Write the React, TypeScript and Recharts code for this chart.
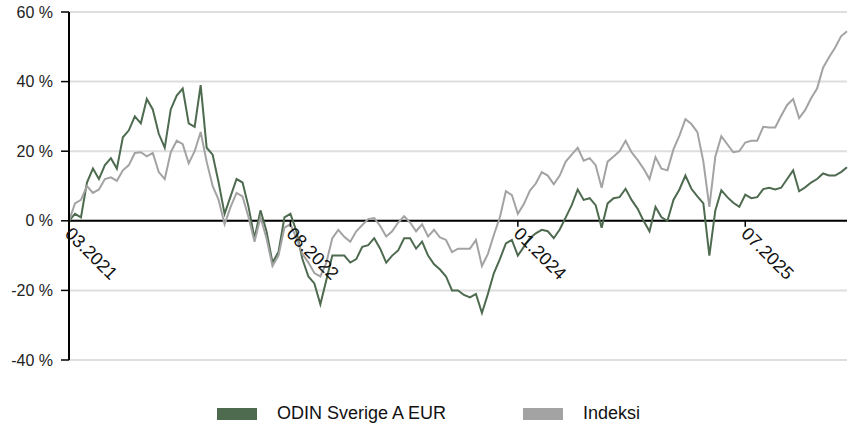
import { LineChart, Line, XAxis, YAxis, CartesianGrid, ReferenceLine, ReferenceDot } from 'recharts';

// two-week periods from 03.2021, values in % change since start
const fundValues = [
  0, 2, 1, 11, 15, 12, 16, 18, 15, 24,
  26, 30, 28, 35, 32, 25, 21, 32, 36, 38,
  28, 27, 39, 21, 19, 11, 2, 7, 12, 11,
  4, -5, 3, -3, -12, -9, 1, 2, -3, -11,
  -16, -18, -24, -17, -10, -10, -10, -12, -11, -7.5,
  -7, -5, -8, -12, -10, -8.5, -5, -5, -8, -6,
  -10, -12.5, -14, -16, -20, -20, -21.3, -22, -21, -26.5,
  -21, -15, -11, -6.5, -5.5, -10, -7.5, -5, -3.6, -2.6,
  -3, -5, -2.5, 1, 4.5, 9, 6, 6.5, 4.5, -2,
  5, 6.5, 6.8, 9.2, 6, 3.5, 0, -3, 4, 1,
  0, 6, 9, 13, 9.2, 7, 5, -10, 3, 8.8,
  6.8, 5.2, 4, 7.5, 6.5, 6.8, 9.1, 9.5, 9, 9.5,
  12, 14.5, 8.5, 9.6, 11, 12, 13.6, 13, 13, 14,
  15.4,
];

const indexValues = [
  0, 5, 6, 10, 8, 9, 12, 12.5, 11.5, 14.5,
  16, 19.5, 19.7, 18.5, 19.5, 14, 12, 19.7, 23, 22,
  16.5, 20, 25.5, 17, 10, 6, -1, 4, 8, 7,
  1, -6, 1, -5, -13, -10, -2, -1, -5, -9.5,
  -12, -15, -16, -12, -5, -2.6, -4.6, -6, -3, -1.2,
  0.5, 0.8, -1.5, -4.5, -3, -0.5, 1.3, -0.5, -3, -1,
  -4.5, -2.6, -4.8, -5.5, -9, -8, -8, -8, -5.5, -13,
  -9.5, -4, 1, 8.5, 7.4, 2, 4.8, 8.6, 10.7, 14,
  13, 10.5, 13, 17, 19, 21, 17.3, 18, 16, 9.5,
  17, 18.5, 20, 23, 19.7, 17.5, 15, 12, 18.3, 15,
  14.5, 20.5, 24.5, 29.2, 27.8, 25.5, 17, 4, 18.5, 24.3,
  22, 19.7, 20, 22.5, 23, 23, 27, 26.8, 26.8, 30.2,
  33.3, 35, 29.5, 31.8, 35.2, 38, 44, 47, 49.7, 53,
  54.5,
];

const tickPeriods = [0, 37, 75, 113];
const tickLabels = ['03.2021', '08.2022', '01.2024', '07.2025'];
const yTicks = [-40, -20, 0, 20, 40, 60];

const seriesNames = ['ODIN Sverige A EUR', 'Indeksi'];
const GREEN = '#4e6b50';
const GRAY = '#a3a3a3';

const data = fundValues.map((v, i) => ({ period: i, fund: v, index: indexValues[i] }));

const FONT = '"Liberation Sans", Arial, sans-serif';

function DateTick(props: any) {
  const { cx, cy, text } = props;
  const px = cx - 5;
  const py = cy + 14;
  return (
    <g>
      <line x1={cx} y1={cy} x2={cx} y2={cy + 6} stroke="#000" strokeWidth={1.5} />
      <text
        x={px}
        y={py}
        transform={`rotate(45 ${px} ${py})`}
        fontSize={18}
        fontFamily={FONT}
        fill="#111"
        textAnchor="start"
      >
        {text}
      </text>
    </g>
  );
}

export default function App() {
  return (
    <div style={{ position: 'absolute', left: 0, top: 0, width: 855, height: 430, background: '#fff', fontFamily: FONT }}>
      <LineChart width={855} height={380} data={data} margin={{ top: 12, right: 8, left: 0, bottom: 20 }}>
        <CartesianGrid stroke="#dedede" strokeWidth={2} vertical={false} />
        <XAxis type="number" dataKey="period" domain={[0, 130]} hide />
        <YAxis
          type="number"
          domain={[-40, 60]}
          ticks={yTicks}
          width={69}
          tickSize={8}
          tickMargin={8}
          axisLine={{ stroke: '#000', strokeWidth: 2 }}
          tickLine={{ stroke: '#000', strokeWidth: 1.5 }}
          tick={{ fill: '#222', fontSize: 16, fontFamily: FONT }}
          tickFormatter={(v) => `${v} %`}
        />
        <ReferenceLine y={0} stroke="#000" strokeWidth={2} />
        <Line type="linear" dataKey="fund" stroke={GREEN} strokeWidth={2} dot={false} isAnimationActive={false} />
        <Line type="linear" dataKey="index" stroke={GRAY} strokeWidth={2} dot={false} isAnimationActive={false} />
        {tickPeriods.map((p, i) => (
          <ReferenceDot
            key={p}
            x={p}
            y={0}
            r={0}
            ifOverflow="visible"
            shape={(s: any) => <DateTick cx={s.cx} cy={s.cy} text={tickLabels[i]} />}
          />
        ))}
      </LineChart>
      <div style={{ position: 'absolute', top: 403, left: 0, width: 855, height: 20 }}>
        {seriesNames.map((name, i) => (
          <div key={name} style={{ position: 'absolute', left: i === 0 ? 217 : 523, top: 0, display: 'flex', alignItems: 'center' }}>
            <span style={{ display: 'inline-block', width: 40, height: 12, background: i === 0 ? GREEN : GRAY }} />
            <span style={{ marginLeft: 20, fontSize: 18, color: '#111' }}>{name}</span>
          </div>
        ))}
      </div>
    </div>
  );
}
